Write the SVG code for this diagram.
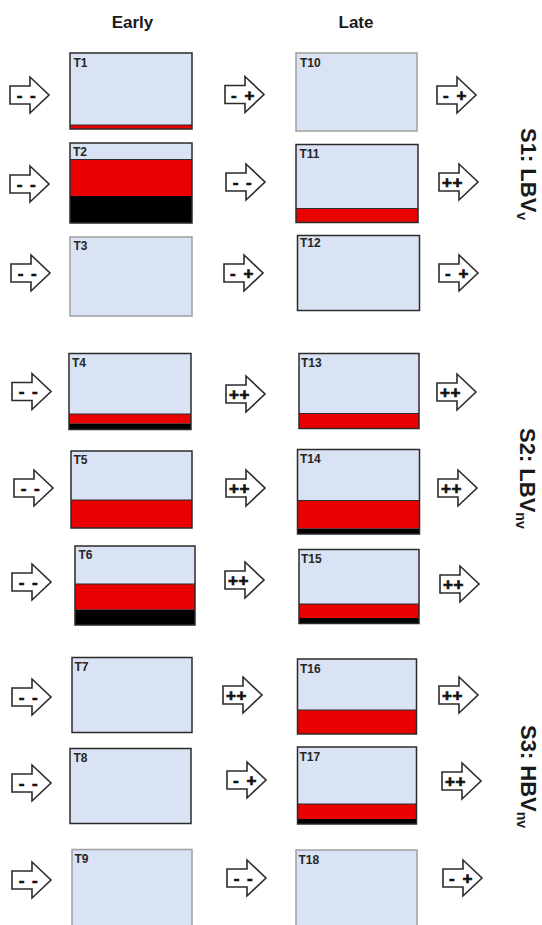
<svg xmlns="http://www.w3.org/2000/svg" width="542" height="925" viewBox="0 0 542 925">
<style>
.bg{fill:#dae3f3}
.red{fill:#ea0000}
.blk{fill:#000}
.ol{fill:none;stroke:#2b2b2b;stroke-width:1.5}
.olg{fill:none;stroke:#a0a0a0;stroke-width:1.5}
.sep{stroke:#2b2b2b;stroke-width:1}
.tl{font-family:"Liberation Sans",Arial,sans-serif;font-weight:bold;font-size:12px;fill:#262626}
.hd{font-family:"Liberation Sans",Arial,sans-serif;font-weight:bold;font-size:17px;fill:#1a1a1a;text-anchor:middle}
.sd{font-family:"Liberation Sans",Arial,sans-serif;font-weight:bold;font-size:22px;fill:#1a1a1a}
.sub{font-size:14px}
.arr{fill:#fff;stroke:#2b2b2b;stroke-width:1.6;stroke-linejoin:miter}
.al{font-family:"Liberation Sans",Arial,sans-serif;font-weight:bold;font-size:17px;fill:#111;stroke:#111;stroke-width:0.7;text-anchor:middle}
</style>
<defs>
<path id="ba" d="M0,-9 H20 V-18 L39,0 L20,18 V9 H0 Z"/>
</defs>
<g id="headers">
<text class="hd" x="132.5" y="28">Early</text>
<text class="hd" x="356" y="28">Late</text>
</g>
<g id="side-labels">
<text class="sd" transform="translate(521,128) rotate(90)">S1: LBV<tspan class="sub" dy="4">v</tspan></text>
<text class="sd" transform="translate(520,428) rotate(90)">S2: LBV<tspan class="sub" dy="4">nv</tspan></text>
<text class="sd" transform="translate(521,725) rotate(90)">S3: HBV<tspan class="sub" dy="4">nv</tspan></text>
</g>
<g id="T1"><rect class="bg" x="70" y="53" width="122" height="76"/><rect class="red" x="70" y="125" width="122" height="4"/><line class="sep" x1="70" y1="125" x2="192" y2="125"/><rect class="ol" x="70" y="53" width="122" height="76"/><text class="tl" x="73.5" y="67">T1</text></g>
<g id="T2"><rect class="bg" x="70" y="143" width="122" height="80"/><rect class="red" x="70" y="159.5" width="122" height="36.5"/><rect class="blk" x="70" y="196" width="122" height="27"/><line class="sep" x1="70" y1="159.5" x2="192" y2="159.5"/><rect class="ol" x="70" y="143" width="122" height="80"/><text class="tl" x="73" y="156">T2</text></g>
<g id="T3"><rect class="bg" x="70" y="237" width="122" height="79"/><rect class="olg" x="70" y="237" width="122" height="79"/><text class="tl" x="73.5" y="250">T3</text></g>
<g id="T4"><rect class="bg" x="69" y="353.5" width="122" height="76"/><rect class="red" x="69" y="414" width="122" height="9.5"/><rect class="blk" x="69" y="423.5" width="122" height="6"/><line class="sep" x1="69" y1="414" x2="191" y2="414"/><rect class="ol" x="69" y="353.5" width="122" height="76"/><text class="tl" x="72" y="366.5">T4</text></g>
<g id="T5"><rect class="bg" x="71" y="451" width="121" height="77"/><rect class="red" x="71" y="500" width="121" height="28"/><line class="sep" x1="71" y1="500" x2="192" y2="500"/><rect class="ol" x="71" y="451" width="121" height="77"/><text class="tl" x="73.5" y="464">T5</text></g>
<g id="T6"><rect class="bg" x="75" y="546" width="120" height="79"/><rect class="red" x="75" y="584" width="120" height="25.5"/><rect class="blk" x="75" y="609.5" width="120" height="15.5"/><line class="sep" x1="75" y1="584" x2="195" y2="584"/><rect class="ol" x="75" y="546" width="120" height="79"/><text class="tl" x="78.5" y="559">T6</text></g>
<g id="T7"><rect class="bg" x="72" y="657.5" width="120" height="75"/><rect class="ol" x="72" y="657.5" width="120" height="75"/><text class="tl" x="74.5" y="670.5">T7</text></g>
<g id="T8"><rect class="bg" x="70" y="748.5" width="121" height="75"/><rect class="ol" x="70" y="748.5" width="121" height="75"/><text class="tl" x="73.5" y="762">T8</text></g>
<g id="T9"><rect class="bg" x="72" y="849.5" width="120" height="85"/><rect class="olg" x="72" y="849.5" width="120" height="85"/><text class="tl" x="74.5" y="862.5">T9</text></g>
<g id="T10"><rect class="bg" x="296" y="53" width="121" height="78"/><rect class="olg" x="296" y="53" width="121" height="78"/><text class="tl" x="300" y="67">T10</text></g>
<g id="T11"><rect class="bg" x="296" y="144.5" width="122" height="78"/><rect class="red" x="296" y="208.5" width="122" height="14"/><line class="sep" x1="296" y1="208.5" x2="418" y2="208.5"/><rect class="ol" x="296" y="144.5" width="122" height="78"/><text class="tl" x="299.5" y="158">T11</text></g>
<g id="T12"><rect class="bg" x="297.5" y="235.5" width="122" height="75"/><rect class="ol" x="297.5" y="235.5" width="122" height="75"/><text class="tl" x="300" y="246.5">T12</text></g>
<g id="T13"><rect class="bg" x="299" y="353.5" width="120" height="75"/><rect class="red" x="299" y="413.5" width="120" height="15"/><line class="sep" x1="299" y1="413.5" x2="419" y2="413.5"/><rect class="ol" x="299" y="353.5" width="120" height="75"/><text class="tl" x="301" y="367">T13</text></g>
<g id="T14"><rect class="bg" x="297.5" y="449.5" width="122" height="84.5"/><rect class="red" x="297.5" y="500.5" width="122" height="28"/><rect class="blk" x="297.5" y="528.5" width="122" height="5.5"/><line class="sep" x1="297.5" y1="500.5" x2="419.5" y2="500.5"/><rect class="ol" x="297.5" y="449.5" width="122" height="84.5"/><text class="tl" x="300" y="463">T14</text></g>
<g id="T15"><rect class="bg" x="299" y="549.5" width="120" height="74"/><rect class="red" x="299" y="604" width="120" height="14"/><rect class="blk" x="299" y="618" width="120" height="5.5"/><line class="sep" x1="299" y1="604" x2="419" y2="604"/><rect class="ol" x="299" y="549.5" width="120" height="74"/><text class="tl" x="301" y="563">T15</text></g>
<g id="T16"><rect class="bg" x="297.5" y="659" width="119" height="75"/><rect class="red" x="297.5" y="710" width="119" height="24"/><line class="sep" x1="297.5" y1="710" x2="416.5" y2="710"/><rect class="ol" x="297.5" y="659" width="119" height="75"/><text class="tl" x="300" y="673">T16</text></g>
<g id="T17"><rect class="bg" x="297.5" y="747" width="119" height="77"/><rect class="red" x="297.5" y="804" width="119" height="15"/><rect class="blk" x="297.5" y="819" width="119" height="5"/><line class="sep" x1="297.5" y1="804" x2="416.5" y2="804"/><rect class="ol" x="297.5" y="747" width="119" height="77"/><text class="tl" x="299.5" y="760.5">T17</text></g>
<g id="T18"><rect class="bg" x="296" y="850" width="121" height="85"/><rect class="olg" x="296" y="850" width="121" height="85"/><text class="tl" x="298.5" y="863.5">T18</text></g>
<g id="connectors">
<g transform="translate(10,95)"><use href="#ba" class="arr"/><text class="al" x="17" y="5.5" letter-spacing="1.5">- -</text></g>
<g transform="translate(10,184)"><use href="#ba" class="arr"/><text class="al" x="17" y="5.5" letter-spacing="1.5">- -</text></g>
<g transform="translate(11,273)"><use href="#ba" class="arr"/><text class="al" x="17" y="5.5" letter-spacing="1.5">- -</text></g>
<g transform="translate(12,391.5)"><use href="#ba" class="arr"/><text class="al" x="17" y="5.5" letter-spacing="1.5">- -</text></g>
<g transform="translate(14,488)"><use href="#ba" class="arr"/><text class="al" x="17" y="5.5" letter-spacing="1.5">- -</text></g>
<g transform="translate(12,582)"><use href="#ba" class="arr"/><text class="al" x="17" y="5.5" letter-spacing="1.5">- -</text></g>
<g transform="translate(12,697)"><use href="#ba" class="arr"/><text class="al" x="17" y="5.5" letter-spacing="1.5">- -</text></g>
<g transform="translate(12,783)"><use href="#ba" class="arr"/><text class="al" x="17" y="5.5" letter-spacing="1.5">- -</text></g>
<g transform="translate(12,880)"><use href="#ba" class="arr"/><text class="al" x="17" y="5.5" letter-spacing="1.5">- -</text></g>
<g transform="translate(225,94.5)"><use href="#ba" class="arr"/><text class="al" x="18.5" y="6" letter-spacing="1.5">- +</text></g>
<g transform="translate(226,182)"><use href="#ba" class="arr"/><text class="al" x="17" y="5.5" letter-spacing="1.5">- -</text></g>
<g transform="translate(224,273)"><use href="#ba" class="arr"/><text class="al" x="18.5" y="6" letter-spacing="1.5">- +</text></g>
<g transform="translate(226,394)"><use href="#ba" class="arr"/><text class="al" x="13.5" y="6" letter-spacing="0.5">++</text></g>
<g transform="translate(226,488)"><use href="#ba" class="arr"/><text class="al" x="13.5" y="6" letter-spacing="0.5">++</text></g>
<g transform="translate(225,580)"><use href="#ba" class="arr"/><text class="al" x="13.5" y="6" letter-spacing="0.5">++</text></g>
<g transform="translate(223,695)"><use href="#ba" class="arr"/><text class="al" x="13.5" y="6" letter-spacing="0.5">++</text></g>
<g transform="translate(227,780)"><use href="#ba" class="arr"/><text class="al" x="18.5" y="6" letter-spacing="1.5">- +</text></g>
<g transform="translate(227,878)"><use href="#ba" class="arr"/><text class="al" x="17" y="5.5" letter-spacing="1.5">- -</text></g>
<g transform="translate(437,95)"><use href="#ba" class="arr"/><text class="al" x="18.5" y="6" letter-spacing="1.5">- +</text></g>
<g transform="translate(439,182)"><use href="#ba" class="arr"/><text class="al" x="13.5" y="6" letter-spacing="0.5">++</text></g>
<g transform="translate(439,273)"><use href="#ba" class="arr"/><text class="al" x="18.5" y="6" letter-spacing="1.5">- +</text></g>
<g transform="translate(437,392)"><use href="#ba" class="arr"/><text class="al" x="13.5" y="6" letter-spacing="0.5">++</text></g>
<g transform="translate(438,488)"><use href="#ba" class="arr"/><text class="al" x="13.5" y="6" letter-spacing="0.5">++</text></g>
<g transform="translate(440,584)"><use href="#ba" class="arr"/><text class="al" x="13.5" y="6" letter-spacing="0.5">++</text></g>
<g transform="translate(439,695)"><use href="#ba" class="arr"/><text class="al" x="13.5" y="6" letter-spacing="0.5">++</text></g>
<g transform="translate(442,781)"><use href="#ba" class="arr"/><text class="al" x="13.5" y="6" letter-spacing="0.5">++</text></g>
<g transform="translate(443,878)"><use href="#ba" class="arr"/><text class="al" x="18.5" y="6" letter-spacing="1.5">- +</text></g>
</g>
</svg>
